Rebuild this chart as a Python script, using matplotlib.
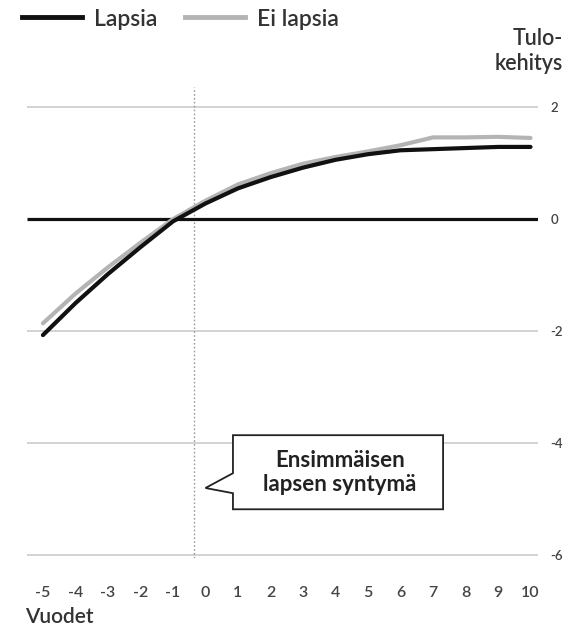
import matplotlib
matplotlib.use("Agg")
import matplotlib.pyplot as plt
from matplotlib.patches import Polygon
from matplotlib.lines import Line2D

plt.rcParams['font.family'] = ['Lato', 'DejaVu Sans']
plt.rcParams['axes.unicode_minus'] = False

# ---- data ----
years = [-5, -4, -3, -2, -1, 0, 1, 2, 3, 4, 5, 6, 7, 8, 9, 10]
lapsia = [-2.07, -1.50, -0.98, -0.50, -0.04, 0.28, 0.55, 0.75, 0.92, 1.06,
          1.16, 1.23, 1.25, 1.27, 1.29, 1.29]
ei_lapsia = [-1.86, -1.33, -0.86, -0.42, 0.0, 0.33, 0.62, 0.82, 0.99, 1.11,
             1.21, 1.32, 1.46, 1.46, 1.47, 1.45]
y_ticks = [-6, -4, -2, 0, 2]
x_ticks = years
series_names = ["Lapsia", "Ei lapsia"]
birth_x = -0.35
annotation_text = "Ensimmäisen\nlapsen syntymä"

W, H = 570, 631
fig = plt.figure(figsize=(W / 100, H / 100), dpi=100)
ax = fig.add_axes([27 / W, 1 - 558 / H, 511 / W, (558 - 87) / H])
ax.set_xlim(-5.49, 10.23)
ax.set_ylim(-6.05, 2.36)

for s in ax.spines.values():
    s.set_visible(False)

# grid lines
for v in y_ticks:
    if v == 0:
        ax.axhline(v, color='#111111', lw=2.3, zorder=3, solid_capstyle='butt')
    else:
        ax.axhline(v, color='#c8c8c8', lw=1.1, zorder=1)

# birth marker
ax.axvline(birth_x, color='#9a9a9a', lw=1.0, ls=(0, (1.2, 1.6)), zorder=2)

# series
ax.plot(years, ei_lapsia, color='#b4b4b4', lw=3.0, zorder=4,
        solid_capstyle='round', solid_joinstyle='round')
ax.plot(years, lapsia, color='#111111', lw=3.0, zorder=5,
        solid_capstyle='round', solid_joinstyle='round')

# ticks
ax.yaxis.tick_right()
ax.set_yticks(y_ticks)
ax.set_yticklabels([str(v) for v in y_ticks])
ax.tick_params(axis='y', length=0, pad=9, labelsize=9.5, labelcolor='#444444')
ax.set_xticks(x_ticks)
ax.set_xticklabels([str(v) for v in x_ticks])
ax.tick_params(axis='x', length=0, pad=20, labelsize=11.5, labelcolor='#444444')
for lab in ax.get_xticklabels() + ax.get_yticklabels():
    lab.set_fontweight('semibold')

# callout box with pointer (annotation shape)
bx0, bx1, by0, by1 = 0.846, 7.31, -5.18, -3.857
tip = (0.0, -4.80)
base_top, base_bot = -4.536, -4.893
callout = Polygon([(bx0, by1), (bx1, by1), (bx1, by0), (bx0, by0),
                   (bx0, base_bot), tip, (bx0, base_top)],
                  closed=True, facecolor='white', edgecolor='#222222', lw=1.3, zorder=6)
ax.add_patch(callout)
ax.text((bx0 + bx1) / 2 + 0.05, (by0 + by1) / 2, annotation_text, ha='center', va='center',
        fontsize=16, fontweight='bold', color='#222222', linespacing=1.15, zorder=7)

# legend
handles = [Line2D([], [], color='#111111', lw=3.5),
           Line2D([], [], color='#b4b4b4', lw=3.5)]
leg = fig.legend(handles, series_names, loc='center left',
                 bbox_to_anchor=(22 / W, 1 - 19 / H), ncol=2, frameon=False,
                 prop={'size': 16.5, 'weight': 'semibold'},
                 handlelength=2.6, handletextpad=0.55,
                 columnspacing=1.2, borderpad=0, borderaxespad=0)
for t in leg.get_texts():
    t.set_color('#333333')

# axis titles
fig.text(563 / W, 1 - 51 / H, "Tulo-\nkehitys", ha='right', va='center',
         fontsize=15.5, fontweight='semibold', color='#333333', linespacing=1.25)
fig.text(25 / W, 1 - 607 / H, "Vuodet", ha='left', va='top',
         fontsize=15, fontweight='semibold', color='#333333')

fig.savefig("out.png", dpi=100, facecolor='white')
